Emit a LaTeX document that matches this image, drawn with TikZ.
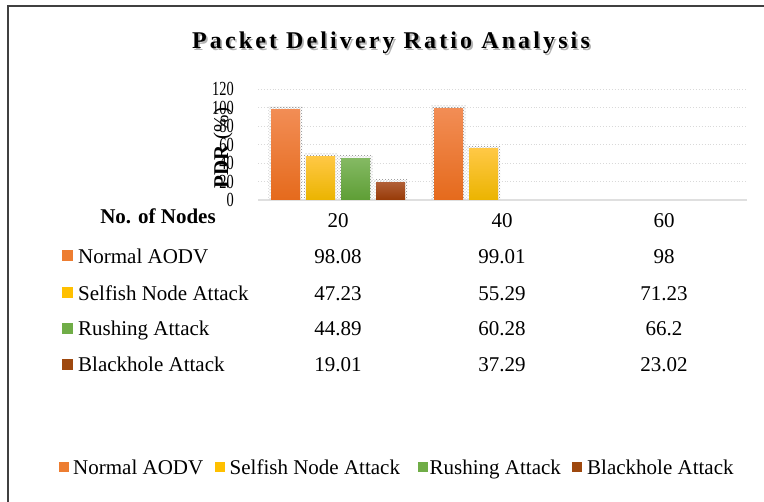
\documentclass[tikz,border=0pt]{standalone}
\usepackage{fontspec}
\setmainfont{Liberation Serif}
\newfontfamily\titlefont[LetterSpace=13]{Liberation Serif}
\newfontfamily\tickfont[FakeStretch=0.72]{Liberation Serif}
\usetikzlibrary{patterns}
\definecolor{cnorm}{HTML}{ED7D31}
\definecolor{cself}{HTML}{FFC000}
\definecolor{crush}{HTML}{70AD47}
\definecolor{cblack}{HTML}{9E480E}
\definecolor{normtop}{HTML}{F28D55}
\definecolor{normbot}{HTML}{E56A1C}
\definecolor{selftop}{HTML}{FFC845}
\definecolor{selfbot}{HTML}{EBB400}
\definecolor{rushtop}{HTML}{84B963}
\definecolor{rushbot}{HTML}{5E9E35}
\definecolor{blacktop}{HTML}{B05E36}
\definecolor{blackbot}{HTML}{973A06}
\tikzset{
  txt/.style={font=\fontsize{21}{25}\selectfont, inner sep=0pt},
  hdrtxt/.style={font=\bfseries\fontsize{21}{25}\selectfont, inner sep=0pt},
  ticklab/.style={font=\tickfont\fontsize{20}{20}\selectfont, anchor=east, inner sep=0pt},
  gridline/.style={gray!30, dotted, line width=0.9pt},
  keybox/.style={minimum size=11pt, inner sep=0pt},
  smallkey/.style={minimum size=10pt, inner sep=0pt},
  frameline/.style={black!75, line width=1.6pt},
  titlestyle/.style={font=\titlefont\bfseries\fontsize{24}{28}\selectfont, inner sep=0pt},
  barshadow/.style={pattern=crosshatch dots, pattern color=gray!90},
}
\newcommand\pdrbar[4]{%
  \fill[barshadow] (#1-2.5,{200-#2*0.925-2.5}) rectangle (#1+31.5,200);
  \shade[top color=#3, bottom color=#4] (#1,{200-#2*0.925}) rectangle (#1+29,200);
}
\begin{document}
\begin{tikzpicture}[x=1pt,y=-1pt]
\useasboundingbox (0,0) rectangle (764,502);
\fill[white] (0,0) rectangle (764,502);
\draw[frameline] (8,502) -- (8,6) -- (764,6);
% title
\node[titlestyle, text=gray!60] (titleshadow) at (392.8,44.8) {Packet Delivery Ratio Analysis};
\node[titlestyle] (title) at (391,43) {Packet Delivery Ratio Analysis};
% grid
\foreach \v in {20,40,...,120}
  \draw[gridline] (258,{200-\v*0.925}) -- (747,{200-\v*0.925});
\draw[gray!25, line width=2pt] (258,200) -- (747,200);
% tick labels
\foreach \v in {0,20,...,120}
  \node[ticklab] (tick\v) at (234,{200-\v*0.925}) {\v};
% axis label
\node[rotate=90, font=\fontsize{21}{25}\selectfont, inner sep=0pt] (ylab) at (223,148) {\textbf{PDR} (\%)};
% bars
\pdrbar{271}{98.08}{normtop}{normbot}
\pdrbar{306}{47.23}{selftop}{selfbot}
\pdrbar{341}{44.89}{rushtop}{rushbot}
\pdrbar{376}{19.01}{blacktop}{blackbot}
\pdrbar{434}{99.01}{normtop}{normbot}
\pdrbar{469}{55.29}{selftop}{selfbot}
% table header
\node[hdrtxt, anchor=base] (hdr) at (158,224) {No. of Nodes};
\node[txt, anchor=base] (c20) at (338,228) {20};
\node[txt, anchor=base] (c40) at (502,228) {40};
\node[txt, anchor=base] (c60) at (664,228) {60};
% rows
\node[keybox, fill=cnorm] (k1) at (67.5,256) {};
\node[txt, anchor=base west] (l1) at (78,264) {Normal AODV};
\node[txt, anchor=base] (v11) at (338,264) {98.08};
\node[txt, anchor=base] (v12) at (502,264) {99.01};
\node[txt, anchor=base] (v13) at (664,264) {98};
\node[keybox, fill=cself] (k2) at (67.5,292.5) {};
\node[txt, anchor=base west] (l2) at (78,300.5) {Selfish Node Attack};
\node[txt, anchor=base] (v21) at (338,300.5) {47.23};
\node[txt, anchor=base] (v22) at (502,300.5) {55.29};
\node[txt, anchor=base] (v23) at (664,300.5) {71.23};
\node[keybox, fill=crush] (k3) at (67.5,328.5) {};
\node[txt, anchor=base west] (l3) at (78,336) {Rushing Attack};
\node[txt, anchor=base] (v31) at (338,336) {44.89};
\node[txt, anchor=base] (v32) at (502,336) {60.28};
\node[txt, anchor=base] (v33) at (664,336) {66.2};
\node[keybox, fill=cblack] (k4) at (67.5,364.5) {};
\node[txt, anchor=base west] (l4) at (78,372) {Blackhole Attack};
\node[txt, anchor=base] (v41) at (338,372) {19.01};
\node[txt, anchor=base] (v42) at (502,372) {37.29};
\node[txt, anchor=base] (v43) at (664,372) {23.02};
% bottom legend
\node[smallkey, fill=cnorm] (b1) at (63.5,467) {};
\node[txt, anchor=base west] (bl1) at (73,474.5) {Normal AODV};
\node[smallkey, fill=cself] (b2) at (220,467) {};
\node[txt, anchor=base west] (bl2) at (229.5,474.5) {Selfish Node Attack};
\node[smallkey, fill=crush] (b3) at (423,467) {};
\node[txt, anchor=base west] (bl3) at (429.5,474.5) {Rushing Attack};
\node[smallkey, fill=cblack] (b4) at (577,467) {};
\node[txt, anchor=base west] (bl4) at (587,474.5) {Blackhole Attack};
\end{tikzpicture}
\end{document}
